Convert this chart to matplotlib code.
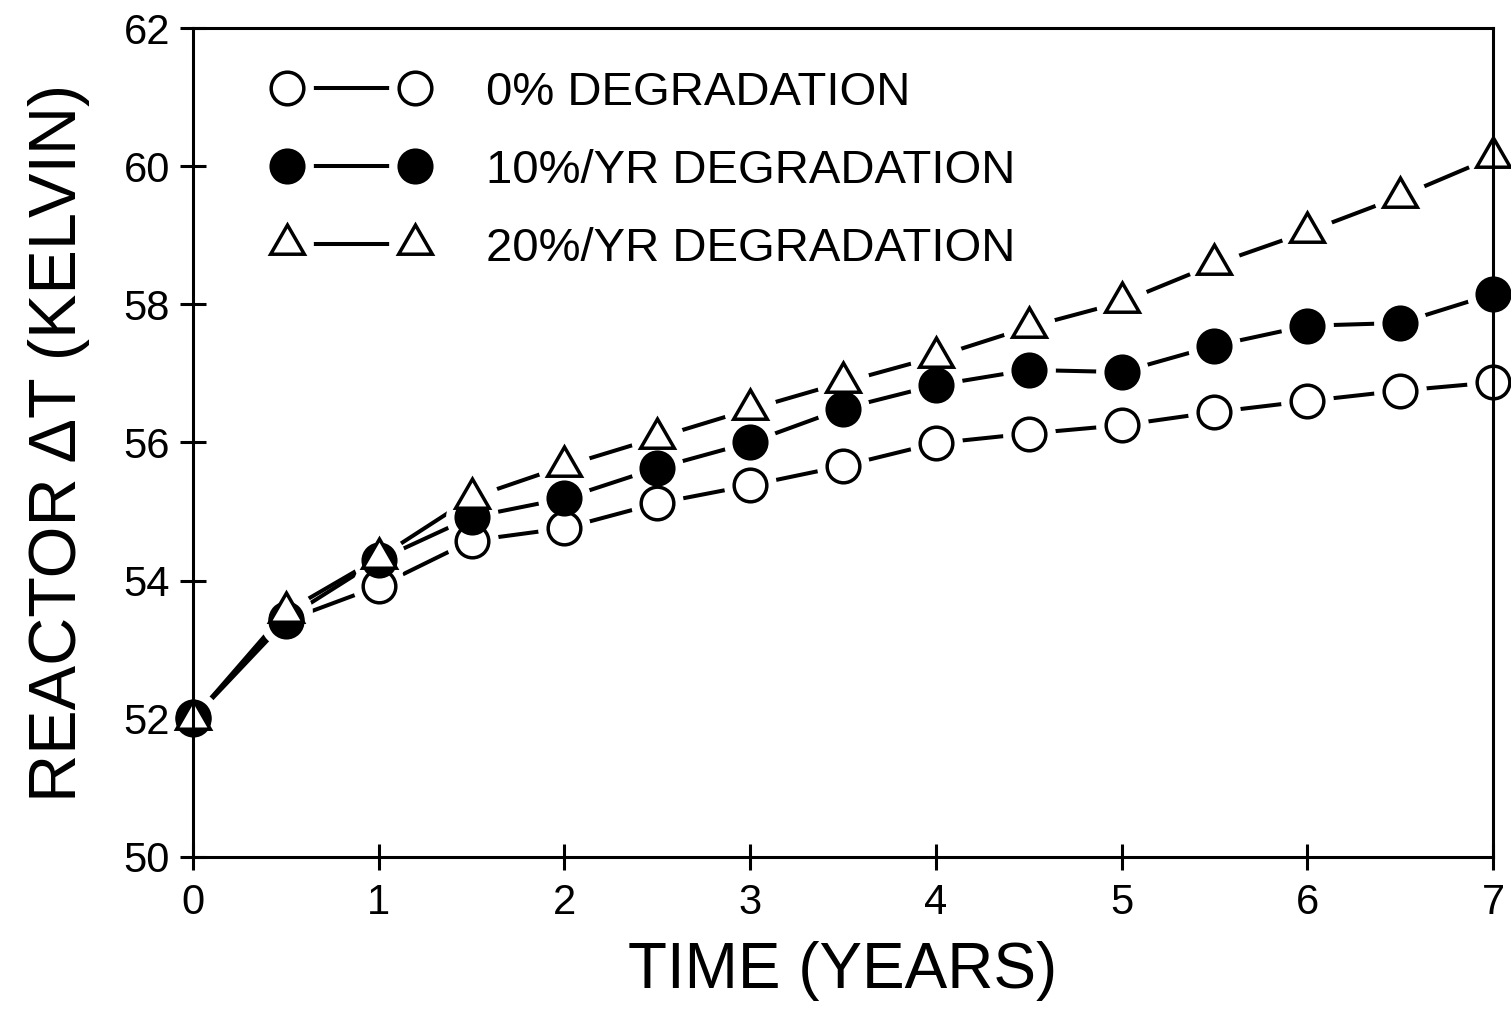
import matplotlib
matplotlib.use("Agg")
import matplotlib.pyplot as plt
from matplotlib.legend_handler import HandlerTuple

plt.rcParams["font.family"] = ["Liberation Sans", "DejaVu Sans"]

# time in years
years = [0, 0.5, 1, 1.5, 2, 2.5, 3, 3.5, 4, 4.5, 5, 5.5, 6, 6.5, 7]

# reactor delta T (K)
dt_0pct = [52.0, 53.42, 53.92, 54.58, 54.76, 55.12, 55.38, 55.66, 55.99,
           56.13, 56.25, 56.44, 56.6, 56.75, 56.87]
dt_10pct = [52.02, 53.45, 54.3, 54.92, 55.19, 55.63, 56.0, 56.49, 56.83,
            57.05, 57.02, 57.4, 57.69, 57.73, 58.15]
dt_20pct = [52.0, 53.55, 54.33, 55.2, 55.66, 56.07, 56.48, 56.87, 57.24,
            57.67, 58.03, 58.58, 59.05, 59.56, 60.13]

labels = ["0% DEGRADATION", "10%/YR DEGRADATION", "20%/YR DEGRADATION"]
xticks = [0, 1, 2, 3, 4, 5, 6, 7]
yticks = [50, 52, 54, 56, 58, 60, 62]

TRI = (3, 0, 0)
styles = [
    dict(marker="o", mfc="white", ms=23.5),
    dict(marker="o", mfc="black", ms=23.5),
    dict(marker=TRI, mfc="white", ms=28),
]


def main() -> None:
    fig = plt.figure(figsize=(15.11, 10.15), dpi=100)
    ax = fig.add_axes([193 / 1511, 1 - 857 / 1015, 1300 / 1511, 829 / 1015])

    handles = []
    for series, st in zip([dt_0pct, dt_10pct, dt_20pct], styles):
        line, = ax.plot(years, series, "-", color="black", lw=2.9, zorder=2,
                        solid_capstyle="butt", clip_on=False)
        # white disc under each marker leaves the gap seen in the original
        halo, = ax.plot(years, series, "o", ms=38, mfc="white", mec="none",
                        ls="none", zorder=3, clip_on=False)
        mark, = ax.plot(years, series, ls="none", marker=st["marker"],
                        ms=st["ms"], mfc=st["mfc"], mec="black", mew=2.5,
                        zorder=4, clip_on=False)
        handles.append((line, halo, mark))

    ax.set_xlim(0, 7)
    ax.set_ylim(50, 62)
    ax.set_xticks(xticks)
    ax.set_yticks(yticks)
    ax.tick_params(direction="inout", length=19, width=2.2, labelsize=30,
                   pad=7, top=False, right=False)
    ax.tick_params(axis="x", pad=9)
    for sp in ax.spines.values():
        sp.set_linewidth(2.2)
        sp.set_zorder(5)

    ax.set_xlabel("TIME (YEARS)", fontsize=46, labelpad=13)
    ax.set_ylabel("REACTOR ΔT (KELVIN)", fontsize=48, labelpad=24)

    ax.legend(handles, labels, handler_map={tuple: HandlerTuple(ndivide=1)},
              numpoints=2, handlelength=3.3, handletextpad=1.2,
              labelspacing=0.72, fontsize=34, frameon=False, loc="upper left",
              bbox_to_anchor=(80 / 1300, 1 - 43 / 829), borderaxespad=0,
              borderpad=0)

    fig.savefig("out.png", dpi=100)
    plt.close(fig)


if __name__ == "__main__":
    main()
